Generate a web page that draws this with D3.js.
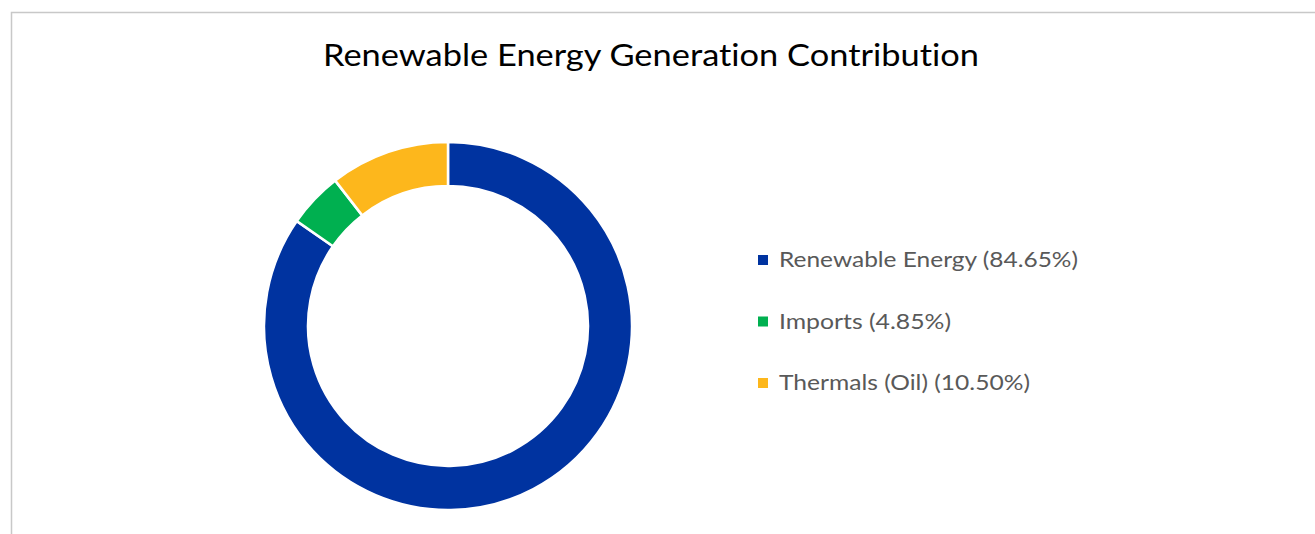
<!DOCTYPE html>
<html>
<head>
<meta charset="utf-8">
<script src="https://cdn.jsdelivr.net/npm/d3@7"></script>
<style>
  body { margin: 0; background: #fff; }
  svg { display: block; }
  text { font-variant-ligatures: none; font-feature-settings: "liga" 0, "clig" 0; }
</style>
</head>
<body>
<svg id="chart" width="1315" height="534"></svg>
<script>
const categories = ['Renewable Energy', 'Imports', 'Thermals (Oil)'];
const shares = [84.65, 4.85, 10.50];
const labels = ['Renewable Energy (84.65%)', 'Imports (4.85%)', 'Thermals (Oil) (10.50%)'];
const colors = ['#0033A0', '#00B050', '#FDB71C'];

const svg = d3.select('#chart');
const width = 1315, height = 534;

// chart area frame (runs off the right and bottom edges)
svg.append('rect')
    .attr('x', 11.5)
    .attr('y', 12.5)
    .attr('width', width)
    .attr('height', height)
    .attr('fill', 'none')
    .attr('stroke', '#c8c8c8')
    .attr('stroke-width', 1.5);

svg.append('text')
    .attr('x', 651)
    .attr('y', 66)
    .attr('text-anchor', 'middle')
    .style('font-family', 'Lato, sans-serif')
    .style('font-size', '31px')
    .attr('fill', '#000')
    .attr('textLength', 656)
    .attr('lengthAdjust', 'spacingAndGlyphs')
    .text('Renewable Energy Generation Contribution');

const cx = 448, cy = 326;
const outerR = 184, innerR = 140;

const data = categories.map(function (c, i) {
    return {name: c, value: shares[i], color: colors[i]};
});

const pie = d3.pie()
    .value(function (d) { return d.value; })
    .sort(null);

const arc = d3.arc()
    .innerRadius(innerR)
    .outerRadius(outerR);

const donut = svg.append('g')
    .attr('transform', 'translate(' + cx + ',' + cy + ')');

donut.selectAll('path')
    .data(pie(data))
    .enter()
    .append('path')
    .attr('d', arc)
    .attr('fill', function (d) { return d.data.color; })
    .attr('stroke', '#fff')
    .attr('stroke-width', 2.5);

const legendY = d3.scalePoint()
    .domain(categories)
    .range([260, 383]);

const legend = svg.selectAll('.legend')
    .data(data)
    .enter()
    .append('g')
    .attr('class', 'legend')
    .attr('transform', function (d) { return 'translate(758,' + legendY(d.name) + ')'; });

legend.append('rect')
    .attr('x', 0)
    .attr('y', -5)
    .attr('width', 10)
    .attr('height', 10)
    .attr('fill', function (d) { return d.color; });

const legendWidths = [299, 172, 251];
legend.append('text')
    .attr('x', 21)
    .attr('y', 7)
    .style('font-family', 'Lato, sans-serif')
    .style('font-size', '21px')
    .attr('fill', '#595959')
    .attr('textLength', function (d, i) { return legendWidths[i]; })
    .attr('lengthAdjust', 'spacingAndGlyphs')
    .text(function (d, i) { return labels[i]; });
</script>
</body>
</html>
